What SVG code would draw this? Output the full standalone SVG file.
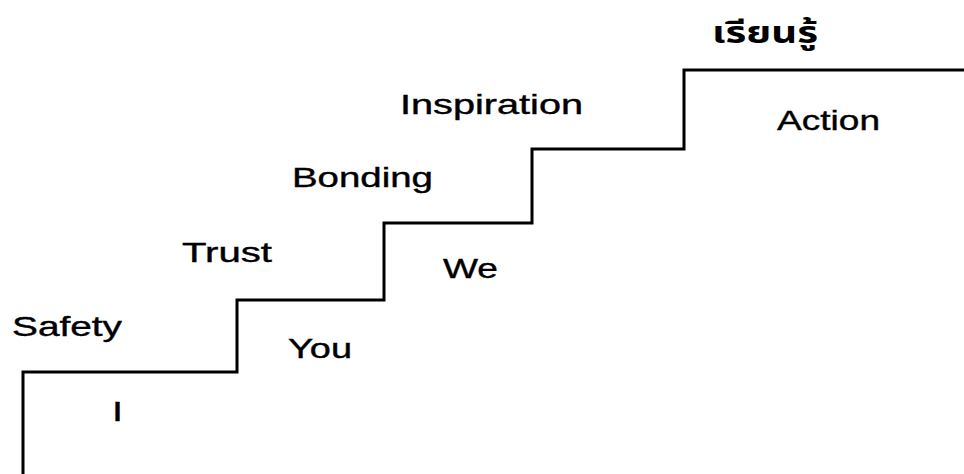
<svg xmlns="http://www.w3.org/2000/svg" width="964" height="474" viewBox="0 0 964 474">
<style>
.lbl{font-family:"Liberation Sans",Arial,sans-serif;font-size:28px;fill:#000;stroke:#000;stroke-width:0.4}
.thai{font-family:"Noto Sans Thai","Noto Sans","DejaVu Sans",sans-serif;font-size:30px;font-weight:bold;fill:#000}
.stair{fill:none;stroke:#000;stroke-width:3;stroke-linejoin:miter}
</style>
<rect width="964" height="474" fill="#fff"/>
<g id="connectors">
<path class="stair" d="M23,474 V372 H237 V300 H384 V223 H532 V149 H684 V70 H964"/>
</g>
<g id="title"><text class="thai" x="712" y="43" textLength="106" lengthAdjust="spacingAndGlyphs">เรียนรู้</text></g>
<g id="safety"><text class="lbl" x="12" y="336" textLength="110" lengthAdjust="spacingAndGlyphs">Safety</text></g>
<g id="i"><text class="lbl" x="112" y="421" textLength="11" lengthAdjust="spacingAndGlyphs">I</text></g>
<g id="trust"><text class="lbl" x="182" y="262" textLength="90" lengthAdjust="spacingAndGlyphs">Trust</text></g>
<g id="you"><text class="lbl" x="288" y="358" textLength="64" lengthAdjust="spacingAndGlyphs">You</text></g>
<g id="bonding"><text class="lbl" x="292" y="187" textLength="141" lengthAdjust="spacingAndGlyphs">Bonding</text></g>
<g id="we"><text class="lbl" x="443" y="278" textLength="55" lengthAdjust="spacingAndGlyphs">We</text></g>
<g id="inspiration"><text class="lbl" x="400" y="114" textLength="183" lengthAdjust="spacingAndGlyphs">Inspiration</text></g>
<g id="action"><text class="lbl" x="777" y="130" textLength="103" lengthAdjust="spacingAndGlyphs">Action</text></g>
</svg>
